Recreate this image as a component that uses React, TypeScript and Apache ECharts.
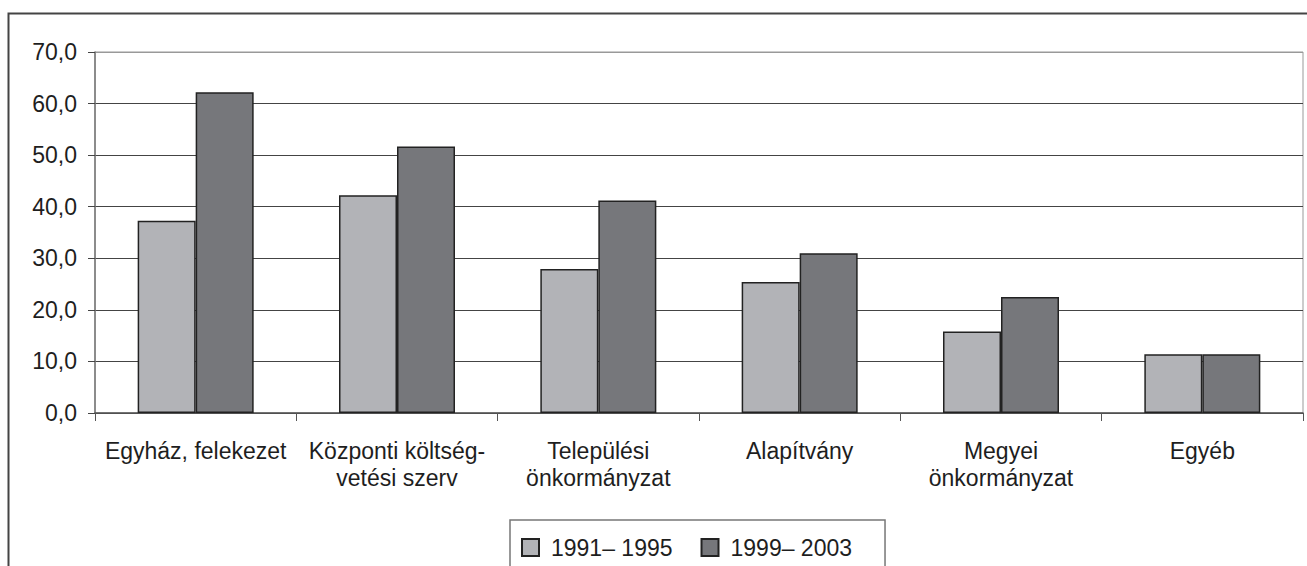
import React, { useEffect, useRef } from "react";
import * as echarts from "echarts";

const categories = [
  "Egyház, felekezet",
  "Központi költség-\nvetési szerv",
  "Települési\nönkormányzat",
  "Alapítvány",
  "Megyei\nönkormányzat",
  "Egyéb",
];
const seriesNames = ["1991– 1995", "1999– 2003"];
const values1991 = [37.3, 42.2, 27.9, 25.4, 15.8, 11.4];
const values1999 = [62.2, 51.7, 41.2, 31.0, 22.5, 11.4];
const yTicks = { min: 0, max: 70, interval: 10 };

const FONT = "'Liberation Sans', Arial, Helvetica, sans-serif";
const TEXT = "#1e1e1e";

export default function App() {
  const ref = useRef<HTMLDivElement>(null);
  useEffect(() => {
    document.body.style.margin = "0";
    const chart = echarts.init(ref.current!, null, { renderer: "svg" });
    chart.setOption({
      animation: false,
      backgroundColor: "#fff",
      textStyle: { fontFamily: FONT, color: TEXT },
      graphic: [
        {
          type: "rect",
          shape: { x: 8.5, y: 13.5, width: 1320, height: 600 },
          style: { fill: "none", stroke: "#444", lineWidth: 2 },
          z: -1,
        },
      ],
      grid: {
        left: 95,
        right: 4,
        top: 52,
        bottom: 153,
        show: true,
        borderColor: "#999",
        borderWidth: 1,
        backgroundColor: "transparent",
      },
      legend: {
        left: 510,
        top: 520,
        orient: "horizontal",
        itemWidth: 17,
        itemHeight: 17,
        itemGap: 28,
        padding: [16, 33, 40, 11],
        borderColor: "#777",
        borderWidth: 1.5,
        icon: "rect",
        textStyle: {
          fontFamily: FONT,
          fontSize: 23,
          color: TEXT,
          padding: [0, 0, 0, 7],
        },
        data: seriesNames,
      },
      xAxis: {
        type: "category",
        data: categories,
        axisLine: { lineStyle: { color: "#555", width: 1.5 } },
        axisTick: { show: true, length: 8, lineStyle: { color: "#555" } },
        axisLabel: {
          interval: 0,
          fontFamily: FONT,
          fontSize: 23,
          color: TEXT,
          lineHeight: 27,
          margin: 24,
        },
        splitLine: { show: false },
      },
      yAxis: {
        type: "value",
        min: yTicks.min,
        max: yTicks.max,
        interval: yTicks.interval,
        axisLine: { show: true, lineStyle: { color: "#777", width: 1.5 } },
        axisTick: { show: true, length: 7, lineStyle: { color: "#444" } },
        axisLabel: {
          fontFamily: FONT,
          fontSize: 23,
          color: TEXT,
          margin: 18,
          formatter: (v: number) => v.toFixed(1).replace(".", ","),
        },
        splitLine: {
          show: true,
          lineStyle: {
            color: ["#444", "#444", "#444", "#444", "#444", "#444", "#444", "#999"],
            width: 1,
          },
        },
      },
      series: [
        {
          name: seriesNames[0],
          type: "bar",
          data: values1991,
          barWidth: 58,
          barGap: "0%",
          itemStyle: { color: "#b2b3b7", borderColor: "#222", borderWidth: 1.5 },
        },
        {
          name: seriesNames[1],
          type: "bar",
          data: values1999,
          barWidth: 58,
          barGap: "0%",
          itemStyle: { color: "#76777b", borderColor: "#222", borderWidth: 1.5 },
        },
      ],
    });
    return () => chart.dispose();
  }, []);
  return (
    <div
      ref={ref}
      style={{ position: "absolute", left: 0, top: 0, width: 1307, height: 566 }}
    />
  );
}
